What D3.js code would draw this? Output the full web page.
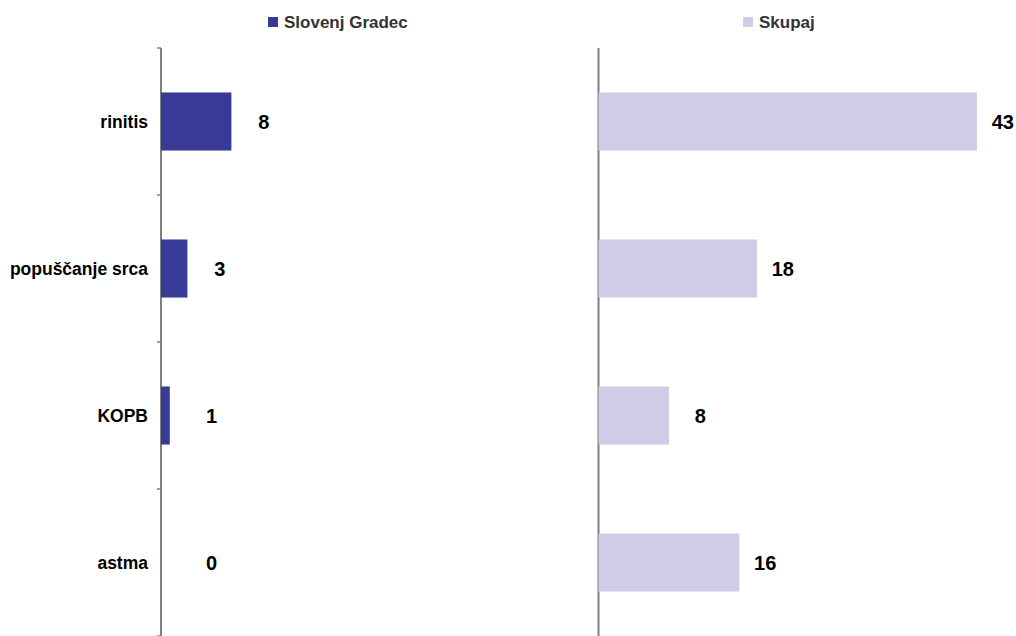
<!DOCTYPE html>
<html>
<head>
<meta charset="utf-8">
<script src="https://cdn.jsdelivr.net/npm/d3@7"></script>
<style>
  html, body { margin: 0; padding: 0; background: #fff; }
  svg { display: block; font-family: "Liberation Sans", Arial, sans-serif; }
</style>
</head>
<body>
<svg id="chart" width="1016" height="636"></svg>
<script>
// Categories (top to bottom) and the two series
const categories = ["rinitis", "popuščanje srca", "KOPB", "astma"];
const slovenjGradec = [8, 3, 1, 0];
const skupaj = [43, 18, 8, 16];
const seriesNames = ["Slovenj Gradec", "Skupaj"];
const seriesColors = ["#373a97", "#cfcce8"];

const svg = d3.select("#chart");

const plotTop = 48, plotBottom = 636;
const y = d3.scaleBand()
  .domain(categories)
  .range([plotTop, plotBottom])
  .paddingInner(0.605)
  .paddingOuter(0.3025);

const x = d3.scaleLinear().domain([0, 50]).range([0, 440]);

const panels = [
  { name: seriesNames[0], values: slovenjGradec, color: seriesColors[0], x0: 161, legendX: 268, labelGap: 38, minLabelEnd: 217, ticks: true },
  { name: seriesNames[1], values: skupaj, color: seriesColors[1], x0: 598.5, legendX: 743, labelGap: 37, minLabelEnd: 0, ticks: false }
];

panels.forEach(p => {
  const g = svg.append("g");

  // vertical axis line
  g.append("line")
    .attr("x1", p.x0).attr("x2", p.x0)
    .attr("y1", plotTop).attr("y2", plotBottom)
    .attr("stroke", "#7f7f7f").attr("stroke-width", 2);

  // tick marks at category boundaries
  if (p.ticks) {
    const step = y.step();
    d3.range(categories.length + 1).forEach(i => {
      const ty = plotTop + i * step;
      g.append("line")
        .attr("x1", p.x0 - 4).attr("x2", p.x0)
        .attr("y1", ty).attr("y2", ty)
        .attr("stroke", "#7f7f7f").attr("stroke-width", 1.5);
    });
  }

  // bars
  g.selectAll("rect.bar")
    .data(categories.map((c, i) => ({ c, v: p.values[i] })))
    .join("rect")
    .attr("class", "bar")
    .attr("x", p.x0)
    .attr("y", d => y(d.c))
    .attr("width", d => x(d.v))
    .attr("height", y.bandwidth())
    .attr("fill", p.color);

  // value labels
  g.selectAll("text.val")
    .data(categories.map((c, i) => ({ c, v: p.values[i] })))
    .join("text")
    .attr("class", "val")
    .attr("x", d => Math.max(p.x0 + x(d.v) + p.labelGap, p.minLabelEnd))
    .attr("y", d => y(d.c) + y.bandwidth() / 2)
    .attr("dy", "0.36em")
    .attr("text-anchor", "end")
    .attr("font-size", 20)
    .attr("font-weight", "bold")
    .attr("fill", "#000")
    .text(d => d.v);

  // legend
  g.append("rect")
    .attr("x", p.legendX).attr("y", 17)
    .attr("width", 10).attr("height", 10)
    .attr("fill", p.color);
  g.append("text")
    .attr("x", p.legendX + 16).attr("y", 28)
    .attr("font-size", 17)
    .attr("font-weight", "bold")
    .attr("fill", "#333")
    .text(p.name);
});

// category labels
svg.append("g")
  .selectAll("text")
  .data(categories)
  .join("text")
  .attr("x", 148)
  .attr("y", d => y(d) + y.bandwidth() / 2)
  .attr("dy", "0.36em")
  .attr("text-anchor", "end")
  .attr("font-size", 17.5)
  .attr("font-weight", "bold")
  .attr("fill", "#000")
  .text(d => d);
</script>
</body>
</html>
